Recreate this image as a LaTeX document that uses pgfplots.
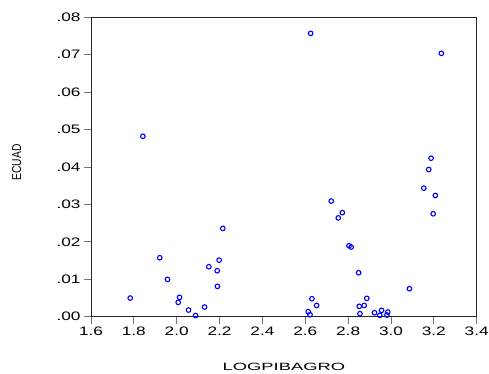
\documentclass[border=0pt]{standalone}
\usepackage{graphicx}
\usepackage{fontspec}
\setmainfont{Liberation Sans}
\newfontfamily\tickfont{Liberation Sans}[FakeStretch=1.4]
\newfontfamily\xlabfont{Liberation Sans}[FakeStretch=1.75]
\usepackage{pgfplots}
\pgfplotsset{compat=1.18}
\begin{document}
\begin{tikzpicture}
\begin{axis}[
  scale only axis, width=385.7pt, height=299.4pt,
  xmin=1.6, xmax=3.4, ymin=0, ymax=0.08,
  xtick={1.6,1.8,2.0,2.2,2.4,2.6,2.8,3.0,3.2,3.4},
  xticklabels={1.6,1.8,2.0,2.2,2.4,2.6,2.8,3.0,3.2,3.4},
  ytick={0,0.01,0.02,0.03,0.04,0.05,0.06,0.07,0.08},
  yticklabels={.00,.01,.02,.03,.04,.05,.06,.07,.08},
  scaled y ticks=false,
  tick align=outside, xtick pos=bottom, ytick pos=left,
  major tick length=7pt,
  axis line style={line width=0.9pt, black!85},
  tick style={line width=0.8pt, black!55},
  ticklabel style={font=\tickfont\fontsize{12.3}{13}\selectfont},
  xlabel={LOGPIBAGRO}, ylabel={\scalebox{1}[1.25]{ECUAD}},
  xlabel style={font=\xlabfont\fontsize{10.5}{12}\selectfont, at={(axis description cs:0.5,-0.168)}, anchor=center},
  ylabel style={font=\fontsize{10.3}{12}\selectfont, at={(axis description cs:-0.1926,0.515)}, anchor=center},
  clip=true,
]
\addplot[only marks, mark=o, mark size=2.3pt, mark options={draw=blue, line width=1.1pt}] coordinates {
(1.783,0.00498) (1.842,0.0482) (1.921,0.01575) (1.957,0.00996) (2.007,0.00383)
(2.013,0.00516) (2.055,0.00178) (2.088,0.0003) (2.130,0.00258) (2.150,0.01335)
(2.189,0.01228) (2.190,0.0081) (2.198,0.01512) (2.215,0.02358) (2.625,0.0757)
(2.614,0.00133) (2.622,0.00053) (2.631,0.0048) (2.653,0.0030) (2.721,0.0309)
(2.754,0.0264) (2.773,0.0278) (2.804,0.01895) (2.814,0.0186) (2.849,0.01174)
(2.852,0.00276) (2.855,0.0008) (2.875,0.0030) (2.887,0.0049) (2.923,0.00107)
(2.948,0.00036) (2.956,0.00169) (2.981,0.00044) (2.985,0.00125) (3.086,0.00747)
(3.153,0.03434) (3.176,0.03932) (3.187,0.04235) (3.197,0.0275) (3.207,0.03238)
(3.235,0.07037)
};
\coordinate (sw) at (rel axis cs:0,0);
\coordinate (ne) at (rel axis cs:1,1);
\end{axis}
\pgfresetboundingbox
\path[use as bounding box] ([shift={(-91pt,-57.3pt)}]sw) rectangle ([shift={(12.3pt,17.3pt)}]ne);
\end{tikzpicture}
\end{document}
